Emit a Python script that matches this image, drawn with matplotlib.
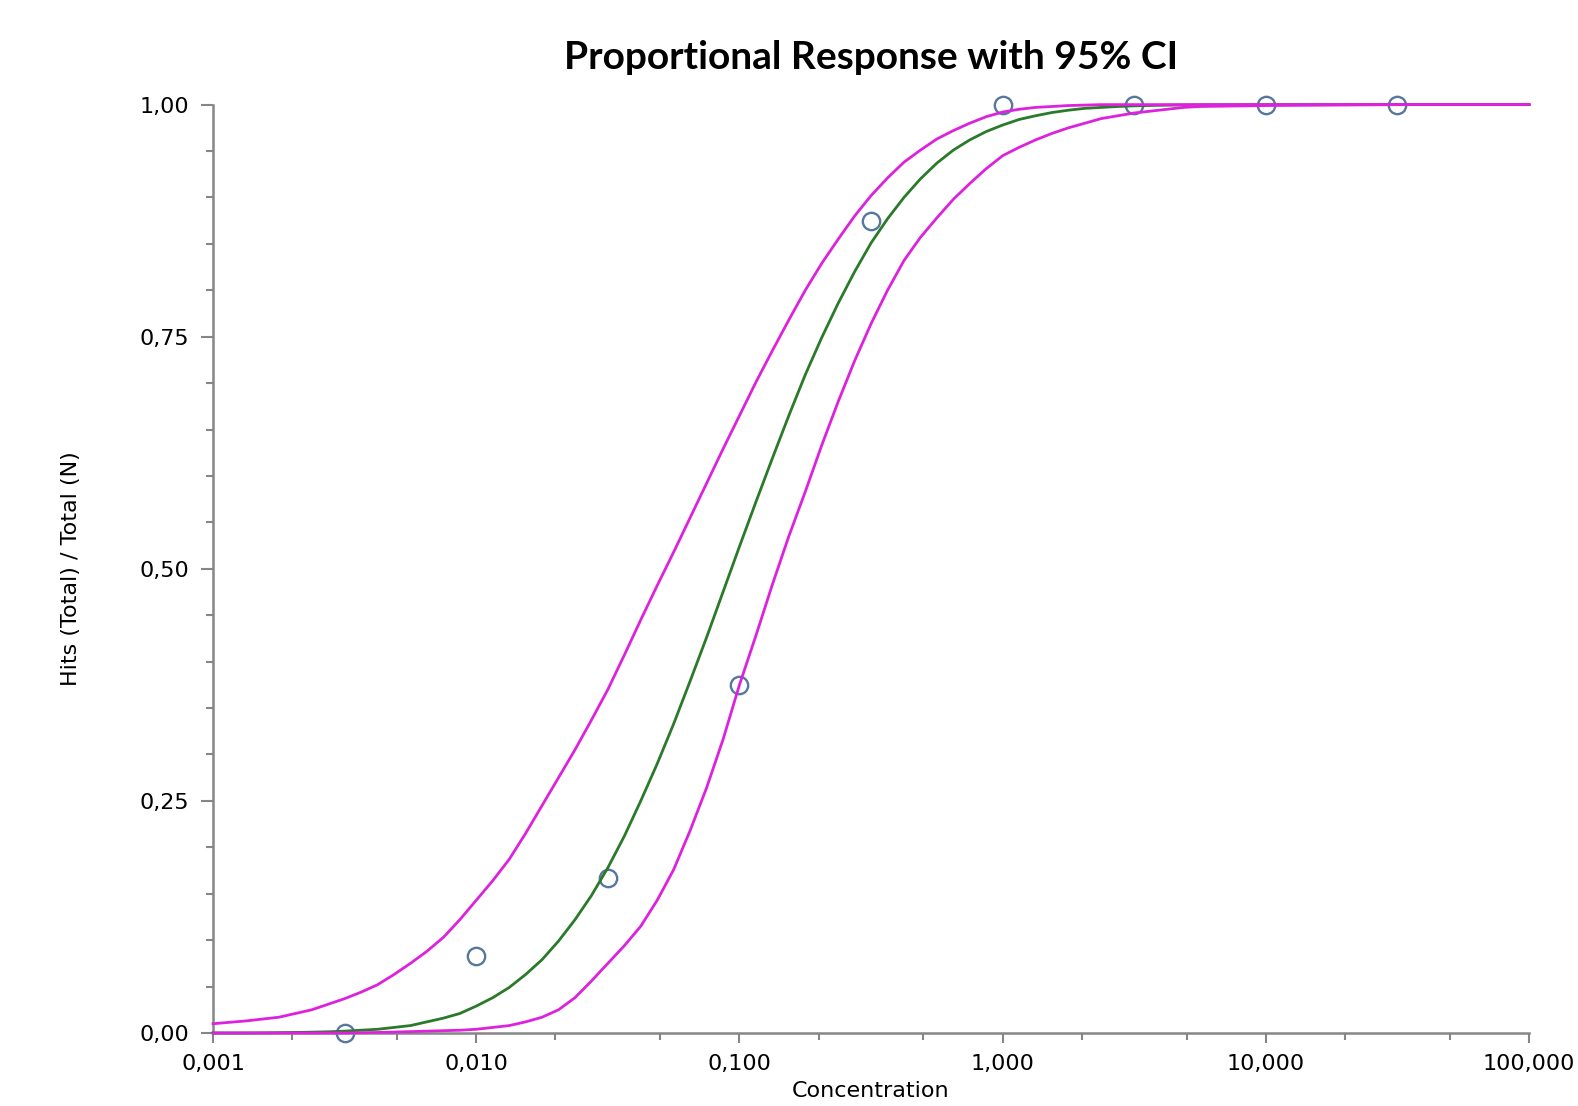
import matplotlib
matplotlib.use("Agg")
import matplotlib.pyplot as plt
import numpy as np
from matplotlib.ticker import FixedLocator, FuncFormatter, MultipleLocator

# observed proportions (hits / N)
conc_points = [0.00316, 0.01, 0.0316, 0.1, 0.316, 1.0, 3.16, 10.0, 31.6]
prop_points = [0.0, 0.083, 0.167, 0.375, 0.875, 1.0, 1.0, 1.0, 1.0]

# curves, every 1/16 decade (log10 of concentration)
log_conc = [-3.0, -2.9375, -2.875, -2.8125, -2.75, -2.6875, -2.625, -2.5625,
            -2.5, -2.4375, -2.375, -2.3125, -2.25, -2.1875, -2.125, -2.0625,
            -2.0, -1.9375, -1.875, -1.8125, -1.75, -1.6875, -1.625, -1.5625,
            -1.5, -1.4375, -1.375, -1.3125, -1.25, -1.1875, -1.125, -1.0625,
            -1.0, -0.9375, -0.875, -0.8125, -0.75, -0.6875, -0.625, -0.5625,
            -0.5, -0.4375, -0.375, -0.3125, -0.25, -0.1875, -0.125, -0.0625,
            0.0, 0.0625, 0.125, 0.1875, 0.25, 0.3125, 0.375, 0.4375,
            0.5, 0.5625, 0.625, 0.6875, 0.75, 1.0, 1.5, 2.0]
fit_curve = [0.0001, 0.0001, 0.0001, 0.0002, 0.0004, 0.0006, 0.0009, 0.0013,
             0.002, 0.003, 0.004, 0.006, 0.008, 0.012, 0.016, 0.021,
             0.029, 0.038, 0.049, 0.063, 0.079, 0.099, 0.122, 0.148,
             0.178, 0.212, 0.250, 0.290, 0.333, 0.379, 0.426, 0.475,
             0.524, 0.572, 0.619, 0.665, 0.709, 0.749, 0.786, 0.820,
             0.851, 0.877, 0.900, 0.920, 0.937, 0.951, 0.962, 0.971,
             0.978, 0.984, 0.988, 0.9915, 0.994, 0.996, 0.997, 0.998,
             0.9987, 0.9991, 0.9994, 0.9996, 0.9998, 1.0, 1.0, 1.0]
upper_ci = [0.010, 0.0115, 0.013, 0.015, 0.017, 0.021, 0.025, 0.031,
            0.037, 0.044, 0.052, 0.063, 0.075, 0.088, 0.103, 0.122,
            0.143, 0.164, 0.187, 0.215, 0.245, 0.275, 0.305, 0.337,
            0.370, 0.407, 0.445, 0.482, 0.518, 0.555, 0.592, 0.629,
            0.665, 0.701, 0.735, 0.768, 0.800, 0.829, 0.855, 0.880,
            0.902, 0.921, 0.938, 0.951, 0.963, 0.972, 0.980, 0.987,
            0.992, 0.995, 0.997, 0.998, 0.999, 0.9995, 1.0, 1.0,
            1.0, 1.0, 1.0, 1.0, 1.0, 1.0, 1.0, 1.0]
lower_ci = [0.0, 0.0, 0.0, 0.0, 0.0, 0.0, 0.0, 0.0,
            0.0, 0.0003, 0.0006, 0.001, 0.0015, 0.002, 0.0025, 0.003,
            0.004, 0.006, 0.008, 0.012, 0.017, 0.025, 0.038, 0.056,
            0.075, 0.094, 0.115, 0.143, 0.176, 0.218, 0.264, 0.316,
            0.375, 0.428, 0.483, 0.535, 0.583, 0.633, 0.680, 0.724,
            0.764, 0.800, 0.832, 0.857, 0.878, 0.898, 0.915, 0.931,
            0.945, 0.954, 0.962, 0.969, 0.975, 0.980, 0.985, 0.988,
            0.991, 0.993, 0.995, 0.997, 0.998, 0.999, 1.0, 1.0]

x_major = [0.001, 0.01, 0.1, 1.0, 10.0, 100.0]

conc_curve = 10 ** np.array(log_conc)

fig = plt.figure(figsize=(15.78, 11.06), dpi=100)
ax = fig.add_axes([0.135, 0.066, 0.834, 0.8394])

ax.plot(conc_points, prop_points, linestyle="none", marker="o", markersize=12.5,
        markerfacecolor="none", markeredgecolor="#56779e", markeredgewidth=1.7,
        clip_on=False, zorder=2)
ax.plot(conc_curve, fit_curve, color="#2a7a2a", lw=2.0, zorder=3, clip_on=False)
ax.plot(conc_curve, upper_ci, color="#dd22dd", lw=2.0, zorder=4, clip_on=False)
ax.plot(conc_curve, lower_ci, color="#dd22dd", lw=2.0, zorder=4, clip_on=False)

ax.set_xscale("log")
ax.set_xlim(0.001, 100)
ax.set_ylim(0, 1)

ax.xaxis.set_major_locator(FixedLocator(x_major))
minor = [m * d for d in x_major[:-1] for m in (2, 5)]
ax.xaxis.set_minor_locator(FixedLocator(minor))
ax.xaxis.set_major_formatter(FuncFormatter(lambda v, p: f"{v:.3f}".replace(".", ",")))
ax.xaxis.set_minor_formatter(FuncFormatter(lambda v, p: ""))

ax.yaxis.set_major_locator(MultipleLocator(0.25))
ax.yaxis.set_minor_locator(MultipleLocator(0.05))
ax.yaxis.set_major_formatter(FuncFormatter(lambda v, p: f"{v:.2f}".replace(".", ",")))

for side in ("top", "right"):
    ax.spines[side].set_visible(False)
for side in ("left", "bottom"):
    ax.spines[side].set_color("#868686")
    ax.spines[side].set_linewidth(1.8)

ax.tick_params(axis="both", which="both", color="#868686", width=1.5, labelsize=16)
ax.tick_params(axis="y", which="major", length=9, pad=8)
ax.tick_params(axis="y", which="minor", length=5)
ax.tick_params(axis="x", which="major", length=7, pad=8)
ax.tick_params(axis="x", which="minor", length=5)

ax.set_xlabel("Concentration", fontsize=16, labelpad=5)
ax.set_ylabel("Hits (Total) / Total (N)", fontsize=16, labelpad=42)

fig.text(0.552, 0.938, "Proportional Response with 95% CI", ha="center",
         va="baseline", fontsize=28, fontweight="bold", family="Lato")

fig.savefig("out.png", dpi=100)
